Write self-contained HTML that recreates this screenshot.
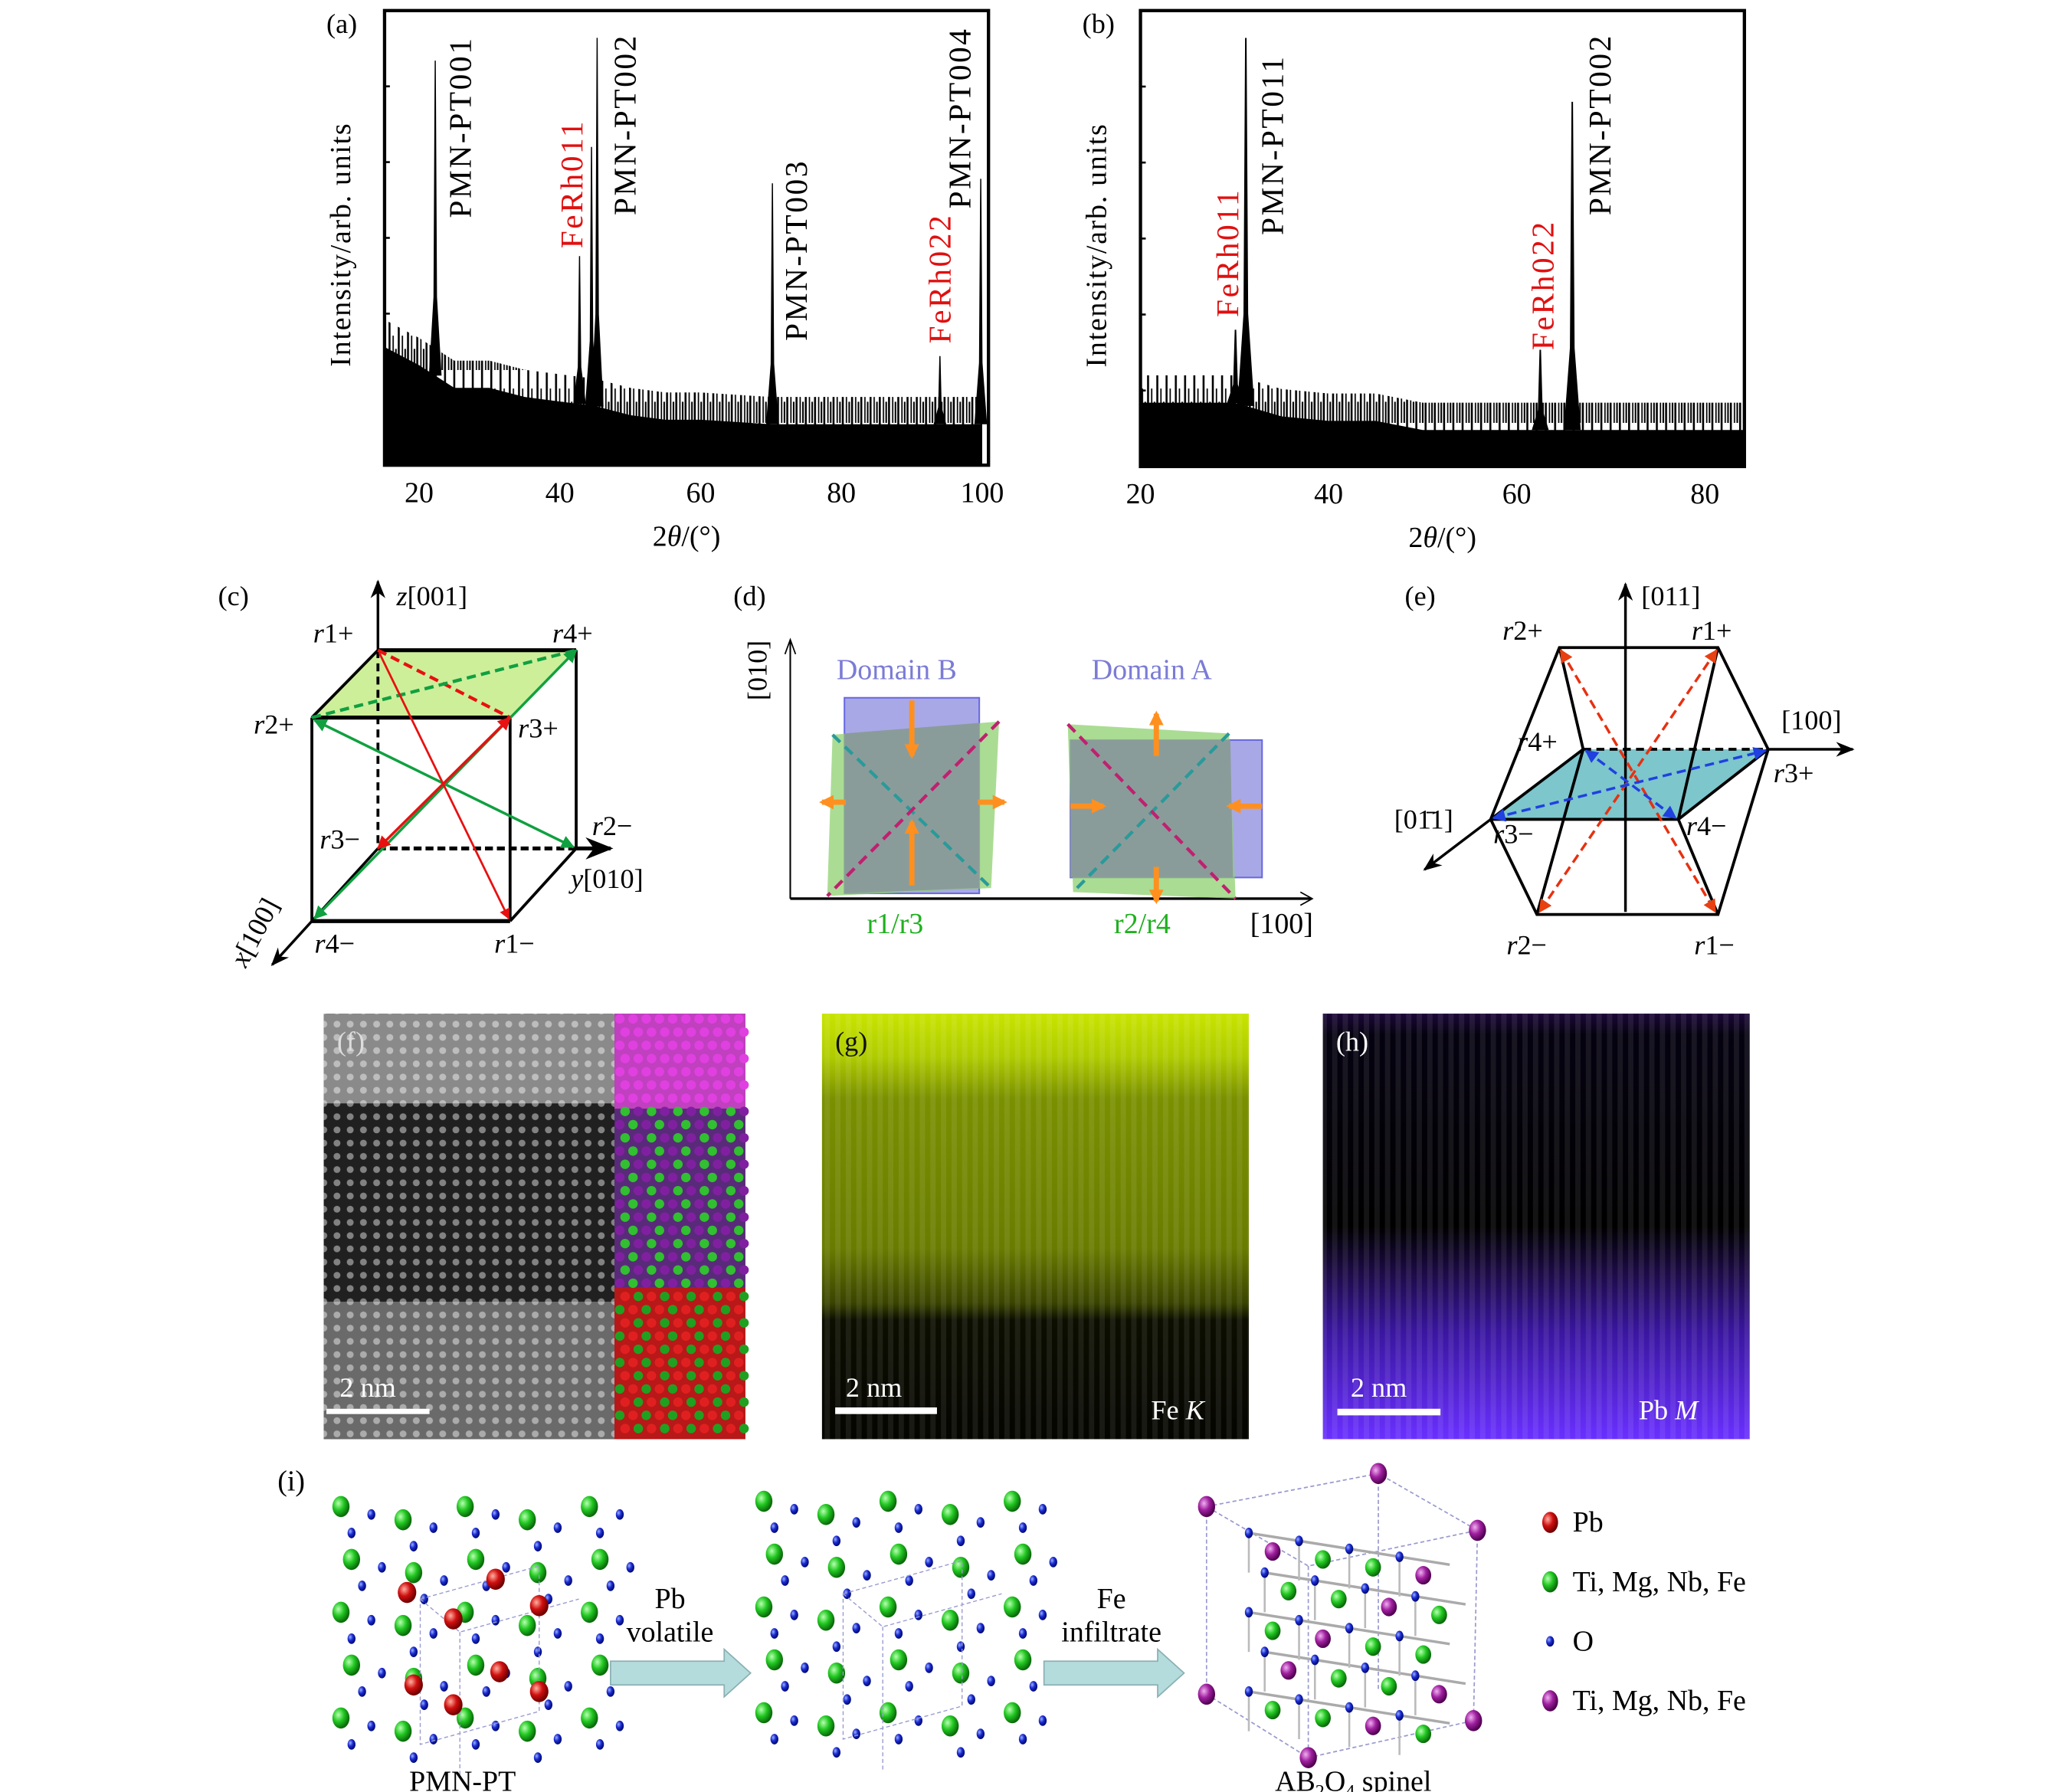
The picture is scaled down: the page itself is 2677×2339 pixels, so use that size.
<!DOCTYPE html>
<html><head><meta charset="utf-8"><style>
html,body{margin:0;padding:0;background:#fff}
svg{display:block}
text{font-family:"Liberation Serif",serif}
</style></head><body>
<svg id="fig" xmlns="http://www.w3.org/2000/svg" width="2677" height="2339" viewBox="0 0 1552 1356" preserveAspectRatio="none">
<defs>
<radialGradient id="gG" cx="35%" cy="35%" r="65%"><stop offset="0" stop-color="#b8ffb0"/><stop offset="0.5" stop-color="#22c822"/><stop offset="1" stop-color="#0a6a0a"/></radialGradient>
<radialGradient id="gR" cx="35%" cy="35%" r="65%"><stop offset="0" stop-color="#ffb0a0"/><stop offset="0.5" stop-color="#d01010"/><stop offset="1" stop-color="#700000"/></radialGradient>
<radialGradient id="gB" cx="35%" cy="35%" r="65%"><stop offset="0" stop-color="#9ab0ff"/><stop offset="0.5" stop-color="#1a2ad0"/><stop offset="1" stop-color="#000a70"/></radialGradient>
<radialGradient id="gP" cx="35%" cy="35%" r="65%"><stop offset="0" stop-color="#f0b0f0"/><stop offset="0.5" stop-color="#a020a0"/><stop offset="1" stop-color="#500050"/></radialGradient>
<linearGradient id="gYel" x1="0" y1="0" x2="0" y2="1"><stop offset="0" stop-color="#c8e400"/><stop offset="0.1" stop-color="#b0cc00"/><stop offset="0.2" stop-color="#7a9000"/><stop offset="0.55" stop-color="#6a7c00"/><stop offset="0.68" stop-color="#3a4400"/><stop offset="0.72" stop-color="#0c0e00"/><stop offset="1" stop-color="#050500"/></linearGradient>
<linearGradient id="gPur" x1="0" y1="0" x2="0" y2="1"><stop offset="0" stop-color="#1c0838"/><stop offset="0.05" stop-color="#050210"/><stop offset="0.5" stop-color="#000000"/><stop offset="0.6" stop-color="#1a0a40"/><stop offset="0.75" stop-color="#3a16a0"/><stop offset="1" stop-color="#6a30ff"/></linearGradient>
<pattern id="dots" width="10" height="10" patternUnits="userSpaceOnUse"><circle cx="5" cy="5" r="2.6" fill="#fff" opacity="0.55"/></pattern>
<pattern id="stripes" width="8" height="10" patternUnits="userSpaceOnUse"><rect width="4" height="10" fill="#fff" opacity="0.08"/></pattern>
<pattern id="noise" width="7" height="40" patternUnits="userSpaceOnUse"><rect x="0" y="0" width="1.5" height="40" fill="#000"/><rect x="3" y="14" width="1" height="26" fill="#000"/><rect x="5" y="24" width="1.2" height="16" fill="#000"/></pattern>
<marker id="ah" viewBox="0 0 10 10" refX="9" refY="5" markerWidth="6" markerHeight="6" orient="auto-start-reverse"><path d="M0,0L10,5L0,10z" fill="#000"/></marker>
<marker id="ahK" viewBox="0 0 10 10" refX="9" refY="5" markerWidth="7" markerHeight="7" orient="auto-start-reverse"><path d="M0,1L10,5L0,9L3,5z" fill="#000"/></marker>
<marker id="ahR" viewBox="0 0 10 10" refX="9" refY="5" markerWidth="5" markerHeight="5" orient="auto-start-reverse"><path d="M0,0L10,5L0,10z" fill="#e81010"/></marker>
<marker id="ahG" viewBox="0 0 10 10" refX="9" refY="5" markerWidth="5" markerHeight="5" orient="auto-start-reverse"><path d="M0,0L10,5L0,10z" fill="#10a040"/></marker>
<marker id="ahO" viewBox="0 0 10 10" refX="9" refY="5" markerWidth="5" markerHeight="5" orient="auto-start-reverse"><path d="M0,0L10,5L0,10z" fill="#e84010"/></marker>
<marker id="ahOr" viewBox="0 0 10 10" refX="8" refY="5" markerUnits="userSpaceOnUse" markerWidth="11" markerHeight="11" orient="auto-start-reverse"><path d="M0,0L10,5L0,10z" fill="#ff9020"/></marker>
<marker id="ahBl" viewBox="0 0 10 10" refX="9" refY="5" markerWidth="5" markerHeight="5" orient="auto-start-reverse"><path d="M0,0L10,5L0,10z" fill="#2040e0"/></marker>
</defs>

<g id="panelA"></g>
<g id="panelB"></g>

<!-- (c) cube -->
<g font-size="21">
<text x="165" y="458">(c)</text>
<polygon points="286,492 436,492 386,543 236,543" fill="#cdef9a"/>
<g stroke="#000" stroke-width="2.2" fill="none">
<line x1="286" y1="492" x2="436" y2="492" stroke-width="3"/>
<line x1="236" y1="543" x2="386" y2="543" stroke-width="3"/>
<line x1="236" y1="543" x2="286" y2="492"/>
<line x1="236" y1="543" x2="236" y2="697"/>
<line x1="386" y1="543" x2="386" y2="697"/>
<line x1="436" y1="492" x2="436" y2="642"/>
<line x1="236" y1="697" x2="386" y2="697" stroke-width="3"/>
<line x1="386" y1="697" x2="436" y2="642"/>
<line x1="286" y1="492" x2="286" y2="642" stroke-dasharray="6,4"/>
<line x1="286" y1="642" x2="436" y2="642" stroke-dasharray="6,3" stroke-width="3"/>
</g>
<line x1="286" y1="492" x2="286" y2="440" stroke="#000" stroke-width="2" marker-end="url(#ahK)"/>
<line x1="436" y1="642" x2="462" y2="642" stroke="#000" stroke-width="3" marker-end="url(#ahK)"/>
<line x1="286" y1="642" x2="206" y2="730" stroke="#000" stroke-width="2" marker-end="url(#ahK)"/>
<line x1="286" y1="492" x2="386" y2="543" stroke="#e81010" stroke-width="2.5" stroke-dasharray="7,4"/>
<line x1="236" y1="543" x2="436" y2="492" stroke="#10a040" stroke-width="2.5" stroke-dasharray="7,4"/>
<line x1="436" y1="492" x2="238" y2="695" stroke="#10a040" stroke-width="2" marker-start="url(#ahG)" marker-end="url(#ahG)"/>
<line x1="238" y1="545" x2="434" y2="641" stroke="#10a040" stroke-width="2" marker-start="url(#ahG)" marker-end="url(#ahG)"/>
<line x1="386" y1="543" x2="286" y2="642" stroke="#e81010" stroke-width="2" marker-start="url(#ahR)" marker-end="url(#ahR)"/>
<line x1="287" y1="494" x2="385" y2="695" stroke="#e81010" stroke-width="1.6" marker-end="url(#ahR)"/>
<text x="300" y="458"><tspan font-style="italic">z</tspan>[001]</text>
<text x="237" y="486"><tspan font-style="italic">r</tspan>1+</text>
<text x="418" y="486"><tspan font-style="italic">r</tspan>4+</text>
<text x="192" y="555"><tspan font-style="italic">r</tspan>2+</text>
<text x="392" y="558"><tspan font-style="italic">r</tspan>3+</text>
<text x="242" y="642"><tspan font-style="italic">r</tspan>3−</text>
<text x="448" y="632"><tspan font-style="italic">r</tspan>2−</text>
<text x="432" y="672"><tspan font-style="italic">y</tspan>[010]</text>
<text x="238" y="721"><tspan font-style="italic">r</tspan>4−</text>
<text x="374" y="721"><tspan font-style="italic">r</tspan>1−</text>
<text transform="translate(186,733) rotate(-62)"><tspan font-style="italic">x</tspan>[100]</text>
</g>

<!-- (d) domains -->
<g font-size="21">
<text x="555" y="458">(d)</text>
<line x1="598" y1="680" x2="598" y2="485" stroke="#000" stroke-width="1.2"/>
<path d="M594,495L598,484L602,495" fill="none" stroke="#000"/>
<line x1="598" y1="680" x2="992" y2="680" stroke="#000" stroke-width="2"/>
<path d="M984,675L993,680L984,685" fill="none" stroke="#000"/>
<text transform="translate(580,530) rotate(-90)">[010]</text>
<text x="633" y="514" fill="#7b7bd6" font-size="22">Domain B</text>
<text x="826" y="514" fill="#7b7bd6" font-size="22">Domain A</text>
<rect x="639" y="528" width="102" height="148" fill="#a8a8e6" stroke="#6a6ae0" stroke-width="1.2"/>
<polygon points="630,556 756,546 750,672 626,678" fill="#8fd070" opacity="0.75"/>
<polygon points="639,555 741,547 741,672 639,676" fill="#8a9c9a"/>
<line x1="630" y1="556" x2="750" y2="672" stroke="#2a9a9a" stroke-width="2.5" stroke-dasharray="8,5"/>
<line x1="756" y1="546" x2="626" y2="678" stroke="#c02070" stroke-width="2.5" stroke-dasharray="8,5"/>
<rect x="810" y="560" width="145" height="104" fill="#a8a8e6" stroke="#6a6ae0" stroke-width="1.2"/>
<polygon points="808,548 930,555 935,680 812,675" fill="#8fd070" opacity="0.75"/>
<polygon points="810,560 931,560 933,664 810,664" fill="#8a9c9a"/>
<line x1="930" y1="555" x2="812" y2="675" stroke="#2a9a9a" stroke-width="2.5" stroke-dasharray="8,5"/>
<line x1="808" y1="548" x2="935" y2="680" stroke="#c02070" stroke-width="2.5" stroke-dasharray="8,5"/>
<g stroke="#ff9020" stroke-width="4" fill="none">
<line x1="690" y1="530" x2="690" y2="572" marker-end="url(#ahOr)"/>
<line x1="690" y1="670" x2="690" y2="622" marker-end="url(#ahOr)"/>
<line x1="640" y1="607" x2="622" y2="607" marker-end="url(#ahOr)"/>
<line x1="740" y1="607" x2="760" y2="607" marker-end="url(#ahOr)"/>
<line x1="875" y1="572" x2="875" y2="540" marker-end="url(#ahOr)"/>
<line x1="875" y1="656" x2="875" y2="682" marker-end="url(#ahOr)"/>
<line x1="810" y1="610" x2="835" y2="610" marker-end="url(#ahOr)"/>
<line x1="955" y1="610" x2="930" y2="610" marker-end="url(#ahOr)"/>
</g>
<text x="656" y="706" fill="#20b020" font-size="22">r1/r3</text>
<text x="843" y="706" fill="#20b020" font-size="22">r2/r4</text>
<text x="946" y="706" font-size="22">[100]</text>
</g>

<!-- (e) -->
<g font-size="21">
<text x="1063" y="458">(e)</text>
<polygon points="1198,567 1338,567 1270,620 1128,620" fill="#7cc6cc"/>
<g stroke="#000" stroke-width="2.2" fill="none">
<polyline points="1128,620 1180,490 1300,490 1338,567 1300,692 1163,692 1128,620"/>
<line x1="1128" y1="620" x2="1270" y2="620"/>
<line x1="1270" y1="620" x2="1338" y2="567"/>
<line x1="1198" y1="567" x2="1338" y2="567" stroke-dasharray="6,4"/>
<line x1="1128" y1="620" x2="1198" y2="567"/>
<line x1="1198" y1="567" x2="1180" y2="490"/>
<line x1="1198" y1="567" x2="1163" y2="692"/>
<line x1="1270" y1="620" x2="1300" y2="490"/>
<line x1="1270" y1="620" x2="1300" y2="692"/>
</g>
<line x1="1230" y1="690" x2="1230" y2="442" stroke="#000" stroke-width="2" marker-end="url(#ahK)"/>
<line x1="1338" y1="567" x2="1402" y2="567" stroke="#000" stroke-width="2" marker-end="url(#ahK)"/>
<line x1="1128" y1="620" x2="1078" y2="658" stroke="#000" stroke-width="2" marker-end="url(#ahK)"/>
<line x1="1181" y1="492" x2="1298" y2="690" stroke="#e83010" stroke-width="2" stroke-dasharray="7,4" marker-start="url(#ahO)" marker-end="url(#ahO)"/>
<line x1="1299" y1="492" x2="1165" y2="690" stroke="#e83010" stroke-width="2" stroke-dasharray="7,4" marker-start="url(#ahO)" marker-end="url(#ahO)"/>
<line x1="1130" y1="619" x2="1336" y2="568" stroke="#2040e0" stroke-width="2" stroke-dasharray="7,4" marker-start="url(#ahBl)" marker-end="url(#ahBl)"/>
<line x1="1200" y1="568" x2="1268" y2="619" stroke="#2040e0" stroke-width="2" stroke-dasharray="7,4" marker-start="url(#ahBl)" marker-end="url(#ahBl)"/>
<text x="1242" y="458">[011]</text>
<text x="1137" y="484"><tspan font-style="italic">r</tspan>2+</text>
<text x="1280" y="484"><tspan font-style="italic">r</tspan>1+</text>
<text x="1348" y="552">[100]</text>
<text x="1148" y="568"><tspan font-style="italic">r</tspan>4+</text>
<text x="1342" y="592"><tspan font-style="italic">r</tspan>3+</text>
<text x="1055" y="627">[01̄1]</text>
<text x="1130" y="638"><tspan font-style="italic">r</tspan>3−</text>
<text x="1276" y="632"><tspan font-style="italic">r</tspan>4−</text>
<text x="1140" y="722"><tspan font-style="italic">r</tspan>2−</text>
<text x="1282" y="722"><tspan font-style="italic">r</tspan>1−</text>
</g>

<!-- (f) -->
<g>
<rect x="245" y="767" width="319" height="322" fill="#3a3a3a"/>
<rect x="245" y="767" width="220" height="68" fill="#8a8a8a"/>
<rect x="245" y="835" width="220" height="150" fill="#202020"/>
<rect x="245" y="985" width="220" height="104" fill="#6a6a6a"/>
<rect x="245" y="767" width="220" height="322" fill="url(#dots)" opacity="0.8"/>
<rect x="465" y="767" width="99" height="72" fill="#c040c0"/>
<rect x="465" y="839" width="99" height="135" fill="#5a2a7a"/>
<rect x="465" y="974" width="99" height="115" fill="#b81818"/>
<g id="atomsF"></g>
<rect x="247" y="1066" width="78" height="4" fill="#fff"/>
<text x="257" y="1057" fill="#fff" font-size="21">2 nm</text>
<text x="255" y="795" fill="#ddd" font-size="21">(f)</text>
</g>
<!-- (g) -->
<g>
<rect x="622" y="767" width="323" height="322" fill="url(#gYel)"/>
<rect x="622" y="767" width="323" height="322" fill="url(#stripes)"/>
<rect x="632" y="1065" width="77" height="5" fill="#fff"/>
<text x="640" y="1057" fill="#fff" font-size="21">2 nm</text>
<text x="871" y="1074" fill="#fff" font-size="21">Fe <tspan font-style="italic">K</tspan></text>
<text x="632" y="795" fill="#111" font-size="21">(g)</text>
</g>
<!-- (h) -->
<g>
<rect x="1001" y="767" width="323" height="322" fill="url(#gPur)"/>
<rect x="1001" y="767" width="323" height="322" fill="url(#stripes)"/>
<rect x="1012" y="1066" width="78" height="5" fill="#fff"/>
<text x="1022" y="1057" fill="#fff" font-size="21">2 nm</text>
<text x="1240" y="1074" fill="#fff" font-size="21">Pb <tspan font-style="italic">M</tspan></text>
<text x="1011" y="795" fill="#fff" font-size="21">(h)</text>
</g>

<!-- (i) -->
<g font-size="22">
<text x="210" y="1128">(i)</text>
<g id="cluster1"></g>
<g id="cluster2"></g>
<g id="cluster3"></g>
<polygon points="462,1257 548,1257 548,1248 568,1266 548,1284 548,1275 462,1275" fill="#b5dcdc" stroke="#8ab0b4"/>
<polygon points="790,1257 876,1257 876,1248 896,1266 876,1284 876,1275 790,1275" fill="#b5dcdc" stroke="#8ab0b4"/>
<text x="507" y="1217" text-anchor="middle">Pb</text>
<text x="507" y="1242" text-anchor="middle">volatile</text>
<text x="841" y="1217" text-anchor="middle">Fe</text>
<text x="841" y="1242" text-anchor="middle">infiltrate</text>
<text x="350" y="1355" text-anchor="middle">PMN-PT</text>
<text x="1024" y="1355" text-anchor="middle">AB<tspan font-size="14" dy="5">2</tspan><tspan dy="-5">O</tspan><tspan font-size="14" dy="5">4</tspan><tspan dy="-5"> spinel</tspan></text>
<g>
<ellipse cx="1173" cy="1152" rx="6" ry="8" fill="url(#gR)"/><text x="1190" y="1159">Pb</text>
<ellipse cx="1173" cy="1197" rx="6" ry="8" fill="url(#gG)"/><text x="1190" y="1204">Ti, Mg, Nb, Fe</text>
<ellipse cx="1173" cy="1242" rx="3" ry="4" fill="url(#gB)"/><text x="1190" y="1249">O</text>
<ellipse cx="1173" cy="1287" rx="6" ry="8" fill="url(#gP)"/><text x="1190" y="1294">Ti, Mg, Nb, Fe</text>
</g>
</g>
</svg>
<script>
const NS='http://www.w3.org/2000/svg';
function mk(tag,attrs,parent){const e=document.createElementNS(NS,tag);for(const k in attrs)e.setAttribute(k,attrs[k]);parent.appendChild(e);return e;}

// ---- XRD data (a) ----
const aTicks=[20,40,60,80,100];
const aBgX=[15,20,25,30,35,40,45,50,55,60,65,70,75,80,85,90,95,100];
const aBgY=[26,22,17,17,15,14,13,11,10,10,9.5,9,9,9,9,9,9,9];
const aPeakPos=[22.3,42.8,44.5,45.3,70.2,94.0,99.8];
const aPeakH=[89,46,70,94,62,24,63];
const aLabels=['PMN-PT001','FeRh011','PMN-PT002','PMN-PT003','FeRh022','PMN-PT004'];
const aLabelPos=[22.3,42.8,45.3,70.2,94.0,99.8];
const aLabelRed=[false,true,false,false,true,false];
// ---- XRD data (b) ----
const bTicks=[20,40,60,80];
const bBgX=[20,25,30,35,40,45,50,55,60,65,70,75,80,85];
const bBgY=[14,14,14,11,10,10,8,8,8,8,8,8,8,8];
const bPeakPos=[30.1,31.2,62.5,65.9];
const bPeakH=[30,94,25.6,80];
const bLabels=['FeRh011','PMN-PT011','FeRh022','PMN-PT002'];
const bLabelPos=[30.1,31.2,62.5,65.9];
const bLabelRed=[true,false,true,false];

function drawXRD(g,cfg){
  const {x0,x1,y0,y1,xmin,xmax,ticks,bgX,bgY,pk,ph,labs,lpos,lred,lbl}=cfg;
  const sx=v=>x0+(v-xmin)/(xmax-xmin)*(x1-x0);
  const sy=v=>y1-v/100*(y1-y0);
  const bgAt=v=>{for(let i=0;i<bgX.length-1;i++){if(v<=bgX[i+1]){const t=(v-bgX[i])/(bgX[i+1]-bgX[i]);return bgY[i]+t*(bgY[i+1]-bgY[i]);}}return bgY[bgY.length-1];};
  function bgPath(off){
    let d='M'+sx(Math.max(xmin,bgX[0]))+','+y1;
    for(let i=0;i<bgX.length;i++){d+='L'+sx(Math.max(xmin,Math.min(xmax,bgX[i])))+','+sy(bgY[i]+off);}
    d+='L'+sx(Math.min(xmax,bgX[bgX.length-1]))+','+y1+'Z';return d;
  }
  const nz=mk('path',{d:bgPath(6),fill:'url(#noise)'},g);
  
  
  const bg=mk('path',{d:bgPath(0),fill:'#000'},g);
  
  
  for(let i=0;i<pk.length;i++){
    const p=pk[i],h=ph[i],b=bgAt(p);
    const pts=[[p-0.9,b],[p-0.25,b+(h-b)*0.25],[p-0.08,h],[p+0.08,h],[p+0.25,b+(h-b)*0.25],[p+0.9,b]];
    const pl=mk('polygon',{points:pts.map(q=>sx(q[0])+','+sy(q[1])).join(' '),fill:'#000'},g);
    
    
  }
  const fr=mk('rect',{x:x0,y:y0,width:x1-x0,height:y1-y0,fill:'none',stroke:'#000','stroke-width':2.5},g);
  
  
  ticks.forEach(t=>{
    const tx=mk('text',{x:sx(t),y:y1+28,'text-anchor':'middle','font-size':22},g);tx.textContent=t;
    
    
  });
  for(let k=1;k<6;k++){mk('line',{x1:x0,x2:x0+4,y1:y0+k*(y1-y0)/6,y2:y0+k*(y1-y0)/6,stroke:'#000','stroke-width':1.5},g);}
  const xl=mk('text',{x:(x0+x1)/2,y:y1+61,'text-anchor':'middle','font-size':22},g);
  xl.innerHTML='2<tspan font-style="italic">θ</tspan>/(°)';
  
  
  const yl=mk('text',{transform:`translate(${x0-26},${(y0+y1)/2+5}) rotate(-90)`,'text-anchor':'middle','font-size':22,'letter-spacing':'1'},g);
  yl.textContent='Intensity/arb. units';
  
  
  const pl=mk('text',{x:x0-44,y:y0+17,'font-size':21},g);pl.textContent=lbl;
  
  
  for(let i=0;i<labs.length;i++){
    const t=mk('text',{transform:`translate(${sx(lpos[i])+cfg.loff[i]},${cfg.lbot[i]}) rotate(-90)`,'font-size':24,'letter-spacing':'1.5',fill:lred[i]?'#e01010':'#000'},g);
    t.textContent=labs[i];
    
    
  }
}
drawXRD(document.getElementById('panelA'),{x0:291,x1:748,y0:8,y1:352,xmin:15.1,xmax:100.9,ticks:aTicks,bgX:aBgX,bgY:aBgY,pk:aPeakPos,ph:aPeakH,labs:aLabels,lpos:aLabelPos,lred:aLabelRed,lbl:'(a)',
  lbot:[165,188,163,258,260,158],loff:[27,2,29,26,8,-8]});
drawXRD(document.getElementById('panelB'),{x0:863,x1:1320,y0:8,y1:353,xmin:20,xmax:84.2,ticks:bTicks,bgX:bBgX,bgY:bBgY,pk:bPeakPos,ph:bPeakH,labs:bLabels,lpos:bLabelPos,lred:bLabelRed,lbl:'(b)',
  lbot:[240,178,265,163],loff:[2,28,10,29]});

// (f) atom overlay
const af=document.getElementById('atomsF');
for(let r=0;r<32;r++){for(let c=0;c<10;c++){
  const y=771+r*10,x=469+c*10+(r%2)*4;let f;
  if(y<839)f='#e040e0';else if(y<974)f=((r+c)%2?'#30c030':'#8020a0');else f=((r+c)%2?'#e02020':'#20a020');
  mk('circle',{cx:x,cy:y,r:3.6,fill:f},af);
}}

// (i) clusters (illustrative lattice)
function perov(g,ox,oy,withPb){
  for(let i=0;i<5;i++)for(let j=0;j<5;j++){
    const x=ox+i*47+(j%2)*8,y=oy+j*40+(i%2)*10;
    mk('ellipse',{cx:x,cy:y,rx:6.5,ry:8,fill:'url(#gG)'},g);
    mk('ellipse',{cx:x+23,cy:y+6,rx:3,ry:4,fill:'url(#gB)'},g);
    mk('ellipse',{cx:x+8,cy:y+20,rx:3,ry:4,fill:'url(#gB)'},g);
  }
  mk('path',{d:`M${ox+60},${oy+70}l90,-25l0,110l-90,25z M${ox+60},${oy+70}l30,25l90,-25 M${ox+90},${oy+95}l0,110`,fill:'none',stroke:'#9a9ad0','stroke-width':0.8,'stroke-dasharray':'3,2'},g);
  if(withPb){
    [[50,65],[117,55],[85,85],[150,75],[55,135],[120,125],[85,150],[150,140]].forEach(p=>mk('ellipse',{cx:ox+p[0],cy:oy+p[1],rx:7,ry:8,fill:'url(#gR)'},g));
  }
}
perov(document.getElementById('cluster1'),258,1140,true);
perov(document.getElementById('cluster2'),578,1136,false);
const c3=document.getElementById('cluster3');
mk('path',{d:'M913,1140L1043,1115L1118,1158L990,1185Z M913,1282L990,1330L1115,1302 M913,1140L913,1282 M1043,1115L1043,1280 M1118,1158L1115,1302 M990,1185L990,1330',fill:'none',stroke:'#9a9ad0','stroke-width':1,'stroke-dasharray':'3,2'},c3);
for(let i=0;i<4;i++)for(let j=0;j<5;j++){
  const x=945+i*38+(j%2)*12,y=1160+j*30+i*6;
  mk('line',{x1:x,y1:y,x2:x+38,y2:y+6,stroke:'#aaa','stroke-width':2},c3);
  mk('line',{x1:x,y1:y,x2:x,y2:y+30,stroke:'#bbb','stroke-width':1.5},c3);
}
for(let i=0;i<4;i++)for(let j=0;j<5;j++){
  const x=945+i*38+(j%2)*12,y=1160+j*30+i*6;
  mk('ellipse',{cx:x,cy:y,rx:3,ry:4,fill:'url(#gB)'},c3);
  mk('ellipse',{cx:x+18,cy:y+14,rx:6,ry:7,fill:(i+j)%3==0?'url(#gP)':'url(#gG)'},c3);
}
[[913,1140],[1043,1115],[1118,1158],[913,1282],[990,1330],[1115,1302]].forEach(p=>mk('ellipse',{cx:p[0],cy:p[1],rx:6.5,ry:8,fill:'url(#gP)'},c3));
</script>
</body></html>
